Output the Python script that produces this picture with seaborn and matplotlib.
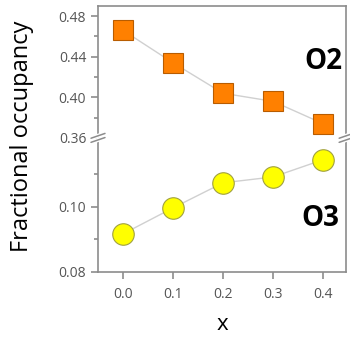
import numpy as np
import pandas as pd
import seaborn as sns
import matplotlib.pyplot as plt

# data
x_vals = [0.0, 0.1, 0.2, 0.3, 0.4]
o2_occ = [0.466, 0.434, 0.404, 0.396, 0.374]
o3_occ = [0.0917, 0.0997, 0.1074, 0.1092, 0.1145]

sns.set_style('white')
plt.rcParams['font.family'] = ['Open Sans', 'DejaVu Sans']

spine_col = '#8c8c8c'
tick_col = '#555555'

fig = plt.figure(figsize=(3.5, 3.43), dpi=100)
ax_top = fig.add_axes([0.28, 0.598, 0.709, 0.3845])
ax_bot = fig.add_axes([0.28, 0.207, 0.709, 0.391])

df_o2 = pd.DataFrame({'x': x_vals, 'occ': o2_occ})
df_o3 = pd.DataFrame({'x': x_vals, 'occ': o3_occ})

sns.lineplot(df_o2, x='x', y='occ', ax=ax_top, color='#d0d0d0', lw=1,
             marker='s', markersize=14.5, markerfacecolor='#ff8000',
             markeredgecolor='#b85c00', markeredgewidth=0.8)
sns.lineplot(df_o3, x='x', y='occ', ax=ax_bot, color='#d0d0d0', lw=1,
             marker='o', markersize=15.5, markerfacecolor='#ffff00',
             markeredgecolor='#a0a040', markeredgewidth=0.8)

ax_top.set_ylim(0.36, 0.49)
ax_bot.set_ylim(0.08, 0.1212)
for ax in (ax_top, ax_bot):
    ax.set_xlim(-0.05, 0.446)
    ax.set_xlabel('')
    ax.set_ylabel('')
    for s in ax.spines.values():
        s.set_color(spine_col)
        s.set_linewidth(1.2)
    ax.tick_params(axis='both', direction='out', length=5, width=1.2,
                   color=spine_col, labelcolor=tick_col, labelsize=10,
                   left=True, bottom=True)
    ax.tick_params(axis='y', which='minor', direction='out', length=3,
                   width=1.2, color=spine_col, left=True)

ax_top.spines['bottom'].set_visible(False)
ax_top.set_xticks([])
ax_top.set_yticks([0.36, 0.40, 0.44, 0.48])
ax_top.set_yticklabels(['0.36', '0.40', '0.44', '0.48'])
ax_top.set_yticks([0.38, 0.42, 0.46], minor=True)

ax_bot.spines['top'].set_visible(False)
ax_bot.set_yticks([0.08, 0.10])
ax_bot.set_yticklabels(['0.08', '0.10'])
ax_bot.set_yticks([0.09, 0.11], minor=True)
ax_bot.set_xticks(x_vals)
ax_bot.set_xticklabels(['0.0', '0.1', '0.2', '0.3', '0.4'])
ax_bot.tick_params(axis='x', pad=6)

# axis break marks
yb = 0.598
for xb in (0.28, 0.989):
    for off in (-0.006, 0.006):
        fig.add_artist(plt.Line2D([xb - 0.02, xb + 0.02],
                                  [yb + off - 0.007, yb + off + 0.007],
                                  color='white', lw=3))
    for off in (-0.006, 0.006):
        fig.add_artist(plt.Line2D([xb - 0.02, xb + 0.02],
                                  [yb + off - 0.007, yb + off + 0.007],
                                  color=spine_col, lw=1.1))

ax_top.text(0.4, 0.435, 'O2', fontsize=20, fontweight='bold', color='black',
            ha='center', va='center')
ax_bot.text(0.395, 0.0965, 'O3', fontsize=20, fontweight='bold', color='black',
            ha='center', va='center')

fig.text(22 / 350, 1 - 136 / 343, 'Fractional occupancy', rotation=90,
         ha='center', va='center', fontsize=17, color='black')
fig.text(222 / 350, 1 - 325 / 343, 'x', ha='center', va='center', fontsize=16,
         color='black')

fig.savefig('out.png', dpi=100)
